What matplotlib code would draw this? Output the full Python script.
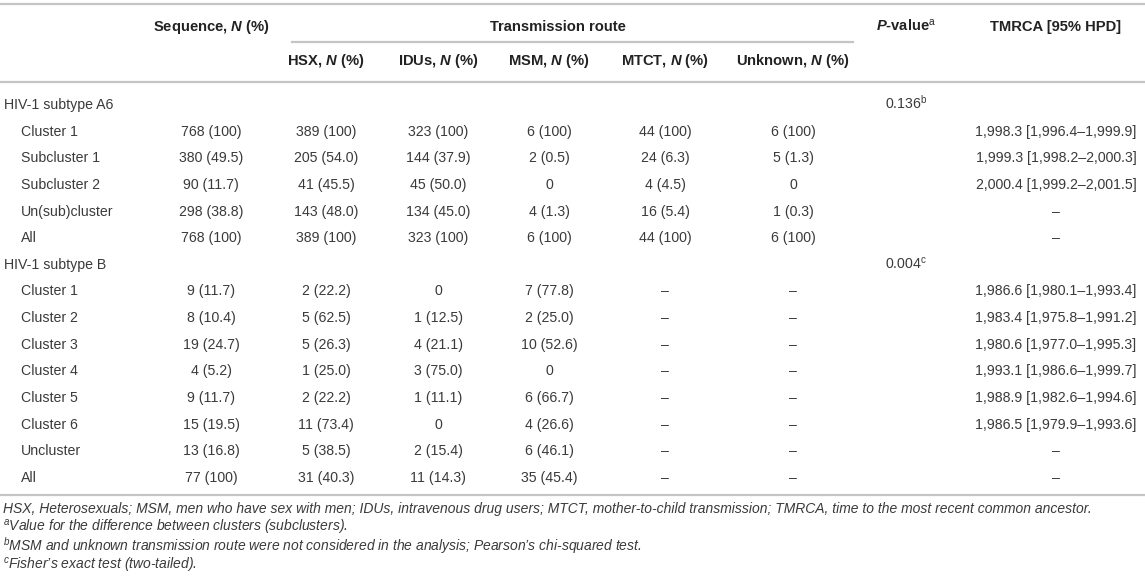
import matplotlib.pyplot as plt

plt.rcParams['font.family'] = ['Liberation Sans', 'DejaVu Sans']
plt.rcParams['mathtext.fontset'] = 'custom'
plt.rcParams['mathtext.rm'] = 'Liberation Sans'
plt.rcParams['mathtext.it'] = 'Liberation Sans:italic'
plt.rcParams['mathtext.bf'] = 'Liberation Sans:bold'
try:
    plt.rcParams['mathtext.bfit'] = 'Liberation Sans:bold:italic'
except KeyError:
    pass

# table content
row_labels = ['HIV-1 subtype A6', 'Cluster 1', 'Subcluster 1', 'Subcluster 2', 'Un(sub)cluster', 'All',
              'HIV-1 subtype B', 'Cluster 1', 'Cluster 2', 'Cluster 3', 'Cluster 4', 'Cluster 5',
              'Cluster 6', 'Uncluster', 'All']
is_group = [True, False, False, False, False, False,
            True, False, False, False, False, False, False, False, False]

sequence = ['', '768 (100)', '380 (49.5)', '90 (11.7)', '298 (38.8)', '768 (100)',
            '', '9 (11.7)', '8 (10.4)', '19 (24.7)', '4 (5.2)', '9 (11.7)', '15 (19.5)', '13 (16.8)', '77 (100)']
hsx = ['', '389 (100)', '205 (54.0)', '41 (45.5)', '143 (48.0)', '389 (100)',
       '', '2 (22.2)', '5 (62.5)', '5 (26.3)', '1 (25.0)', '2 (22.2)', '11 (73.4)', '5 (38.5)', '31 (40.3)']
idus = ['', '323 (100)', '144 (37.9)', '45 (50.0)', '134 (45.0)', '323 (100)',
        '', '0', '1 (12.5)', '4 (21.1)', '3 (75.0)', '1 (11.1)', '0', '2 (15.4)', '11 (14.3)']
msm = ['', '6 (100)', '2 (0.5)', '0', '4 (1.3)', '6 (100)',
       '', '7 (77.8)', '2 (25.0)', '10 (52.6)', '0', '6 (66.7)', '4 (26.6)', '6 (46.1)', '35 (45.4)']
mtct = ['', '44 (100)', '24 (6.3)', '4 (4.5)', '16 (5.4)', '44 (100)',
        '', '–', '–', '–', '–', '–', '–', '–', '–']
unknown = ['', '6 (100)', '5 (1.3)', '0', '1 (0.3)', '6 (100)',
           '', '–', '–', '–', '–', '–', '–', '–', '–']
pvalue = ['0.136$^{\\mathrm{b}}$', '', '', '', '', '',
          '0.004$^{\\mathrm{c}}$', '', '', '', '', '', '', '', '']
tmrca = ['', '1,998.3 [1,996.4–1,999.9]', '1,999.3 [1,998.2–2,000.3]', '2,000.4 [1,999.2–2,001.5]', '–', '–',
         '', '1,986.6 [1,980.1–1,993.4]', '1,983.4 [1,975.8–1,991.2]', '1,980.6 [1,977.0–1,995.3]',
         '1,993.1 [1,986.6–1,999.7]', '1,988.9 [1,982.6–1,994.6]', '1,986.5 [1,979.9–1,993.6]', '–', '–']

headers = ['Sequence, $\\mathbfit{N}$ (%)', 'HSX, $\\mathbfit{N}$ (%)', 'IDUs, $\\mathbfit{N}$ (%)',
           'MSM, $\\mathbfit{N}$ (%)', 'MTCT, $\\mathbfit{N}$ (%)', 'Unknown, $\\mathbfit{N}$ (%)',
           '$\\mathbfit{P}$-value$^{\\mathrm{a}}$', 'TMRCA [95% HPD]']
group_header = 'Transmission route'

footnotes = [
    'HSX, Heterosexuals; MSM, men who have sex with men; IDUs, intravenous drug users; MTCT, '
    'mother-to-child transmission; TMRCA, time to the most recent common ancestor.',
    '$^{a}$Value for the difference between clusters (subclusters).',
    '$^{b}$MSM and unknown transmission route were not considered in the analysis; Pearson\u2019s chi-squared test.',
    '$^{c}$Fisher\u2019s exact test (two-tailed).',
]

W, H = 1145, 584
fig = plt.figure(figsize=(W / 100, H / 100), dpi=100)
ax = fig.add_axes([0, 0, 1, 1])
ax.set_xlim(0, W)
ax.set_ylim(H, 0)
ax.axis('off')

txt = '#3a3a3a'
rule = '#c4c4c4'
fs = 10.2
hfs = 10.6
base = 5  # baseline offset below row centre (px)

col_x = [211, 326, 438, 549, 665, 793, 906, 1056]
columns = [sequence, hsx, idus, msm, mtct, unknown, pvalue, tmrca]

# rules
ax.plot([0, W], [4, 4], color=rule, lw=1.6)
ax.plot([292, 853], [42, 42], color=rule, lw=1.6)
ax.plot([0, W], [82, 82], color=rule, lw=1.6)
ax.plot([0, W], [495, 495], color=rule, lw=1.6)

# headers
hdr_y = [26, 60, 60, 60, 60, 60, 26, 26]
for x, y, h in zip(col_x, hdr_y, headers):
    ax.text(x, y + base, h, ha='center', va='baseline', fontsize=hfs, fontweight='bold', color='#222222')
ax.text(558, 26 + base, group_header, ha='center', va='baseline', fontsize=hfs,
        fontweight='bold', color='#222222')

# body
y0, dy = 104, 26.64
for i, lab in enumerate(row_labels):
    y = y0 + i * dy + base
    ax.text(4 if is_group[i] else 21, y, lab, ha='left', va='baseline', fontsize=fs, color=txt)
    for x, col in zip(col_x, columns):
        if col[i]:
            ax.text(x, y, col[i], ha='center', va='baseline', fontsize=fs, color=txt)

# footnotes
for k, note in enumerate(footnotes):
    ax.text(3, 509 + k * 19 + 4, note, ha='left', va='baseline', fontsize=10.0,
            style='italic', color=txt)

fig.savefig('out.png', dpi=100)
